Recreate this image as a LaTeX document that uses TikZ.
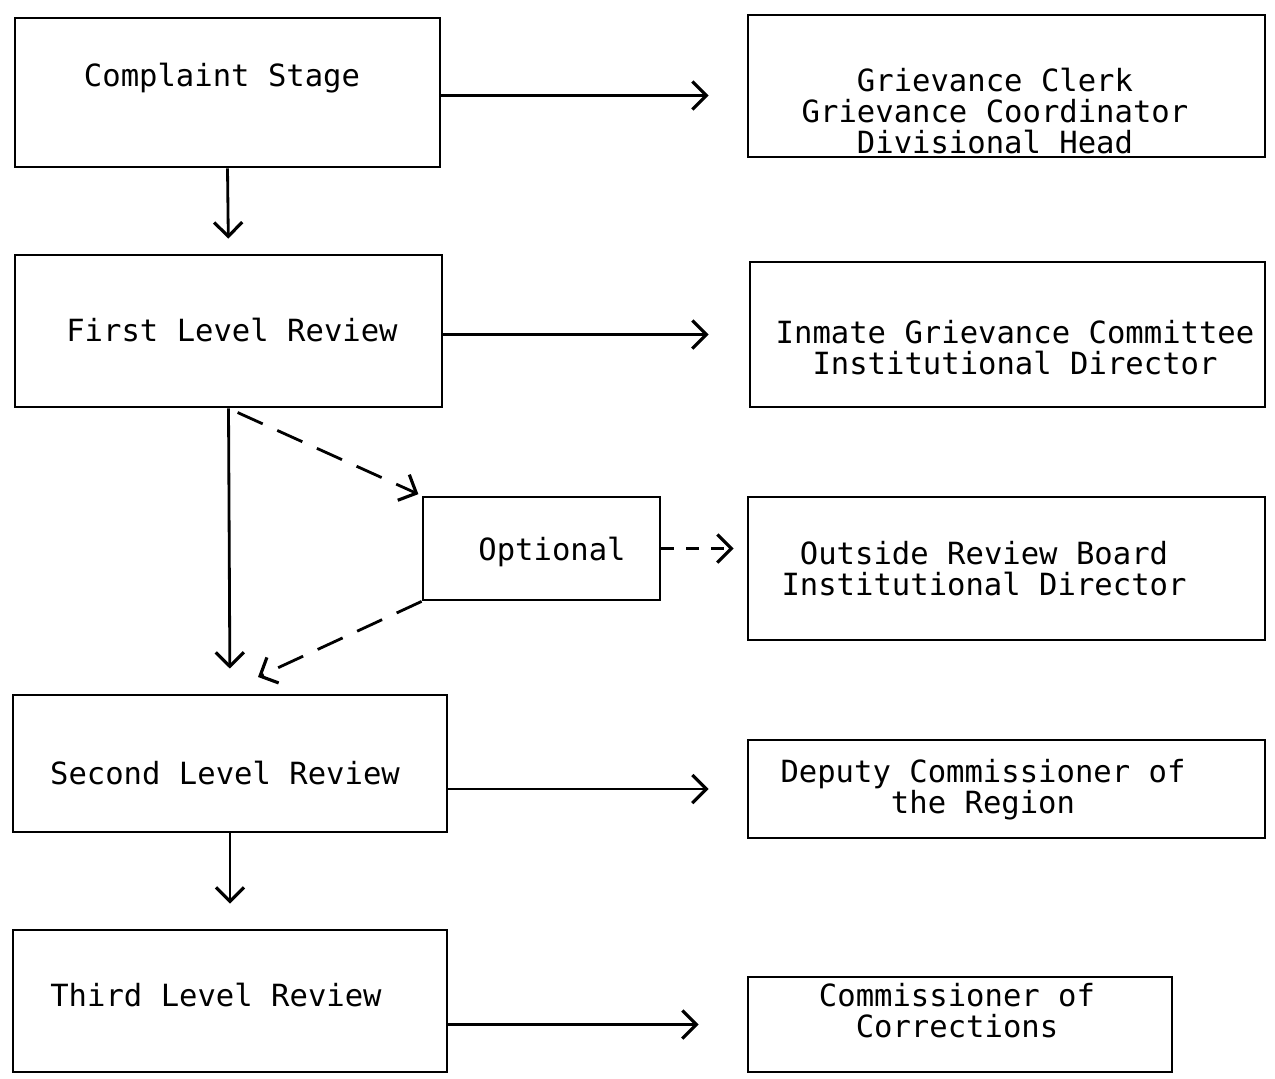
\documentclass[tikz,border=0pt]{standalone}
\usepackage{fontspec}
\setmonofont{DejaVu Sans Mono}
\usetikzlibrary{arrows.meta,positioning}

\begin{document}
\begin{tikzpicture}[auto]
    % Define styles
    \tikzstyle{stage} = [rectangle, draw=black, line width=1.6pt, minimum width=8.6cm, minimum height=2.9cm]
    \tikzstyle{who} = [rectangle, draw=black, line width=1.6pt, minimum width=10.34cm]
    \tikzstyle{txt} = [align=center, font=\fontsize{17.4pt}{17.6pt}\selectfont\ttfamily]
    \tikzstyle{arrow} = [line width=1.6pt,->,>={Straight Barb[length=8pt,width=16pt,line width=1.8pt]}]
    \tikzstyle{dasharrow} = [arrow, dash pattern=on 0.55cm off 0.32cm]

    \useasboundingbox (0,0) rectangle (25.5,-21.56);

    % Nodes
    \node [stage, minimum width=8.5cm, minimum height=2.98cm] (complaint) at (4.55,-1.85) {};
    \node [stage, minimum width=8.54cm, minimum height=3.04cm] (first) at (4.57,-6.62) {};
    \node [rectangle, draw=black, line width=1.6pt, minimum width=4.74cm, minimum height=2.06cm] (optional) at (10.83,-10.97) {};
    \node [stage, minimum width=8.68cm, minimum height=2.74cm] (second) at (4.6,-15.27) {};
    \node [stage, minimum width=8.68cm, minimum height=2.84cm] (third) at (4.6,-20.02) {};

    \node [who, minimum height=2.84cm] (clerks) at (20.13,-1.72) {};
    \node [who, minimum width=10.3cm, minimum height=2.9cm] (committee) at (20.15,-6.69) {};
    \node [who, minimum height=2.86cm] (board) at (20.13,-11.37) {};
    \node [who, minimum height=1.96cm] (deputy) at (20.13,-15.78) {};
    \node [who, minimum width=8.48cm, minimum height=1.9cm] (commissioner) at (19.2,-20.49) {};

    % Texts
    \node [txt] (complaint-t) at (4.44,-1.56) {Complaint Stage};
    \node [txt] (first-t) at (4.64,-6.6) {First Level Review};
    \node [txt] (optional-t) at (11.04,-11.04) {Optional};
    \node [txt] (second-t) at (4.5,-15.46) {Second Level Review};
    \node [txt] (third-t) at (4.32,-19.9) {Third Level Review};
    \node [txt] (clerks-t) at (19.9,-2.22) {Grievance Clerk\\Grievance Coordinator\\Divisional Head};
    \node [txt] (committee-t) at (20.3,-6.96) {Inmate Grievance Committee\\Institutional Director};
    \node [txt] (board-t) at (19.68,-11.38) {Outside Review Board\\Institutional Director};
    \node [txt] (deputy-t) at (19.66,-15.8) {Deputy Commissioner of\\the Region};
    \node [txt] (commissioner-t) at (19.14,-20.22) {Commissioner of\\Corrections};

    \coordinate (join) at (5.16,-13.54);

    % Arrows
    \draw [arrow, shorten >=0.76cm] ([yshift=-0.06cm]complaint.east) -- ([yshift=-0.06cm]complaint.east -| clerks.west);
    \draw [arrow, shorten >=0.8cm] (first.east |- committee.west) -- (committee.west);
    \draw [arrow, shorten >=0.76cm] (second.east |- deputy.west) -- (deputy.west);
    \draw [arrow, shorten >=0.96cm] (third.east |- commissioner.west) -- (commissioner.west);

    \draw [arrow, shorten >=0.3cm] (complaint.south) -- (first.north);
    \draw [arrow, shorten >=0.5cm] (first.south) -- (second.north);
    \draw [arrow, shorten >=0.5cm] (second.south) -- (third.north);

    \draw [dasharrow, shorten <=0.2cm, shorten >=2pt] (first.south) -- (optional.north west);
    \draw [dasharrow] (optional.south west) -- (join);
    \draw [arrow, dash pattern=on 0.26cm off 0.24cm, shorten >=0.26cm] (optional.east) -- (optional.east -| board.west);
\end{tikzpicture}
\end{document}
